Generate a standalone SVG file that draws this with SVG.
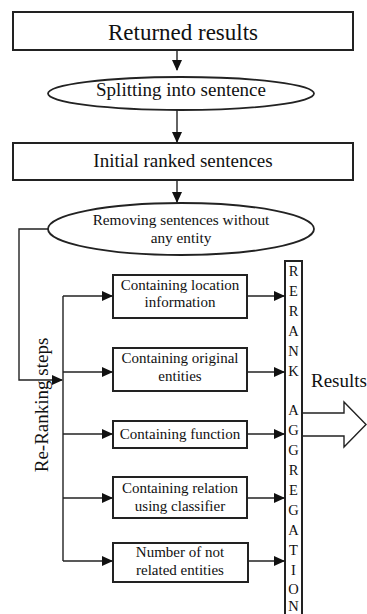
<svg xmlns="http://www.w3.org/2000/svg" width="367" height="614" viewBox="0 0 367 614">
  <style>
    .box { fill: #fff; stroke: #222; stroke-width: 2; }
    .ell { fill: #fff; stroke: #222; stroke-width: 1.8; }
    .ln { fill: none; stroke: #222; stroke-width: 1.4; }
    text { font-family: "Liberation Serif", "Times New Roman", serif; fill: #111; text-anchor: middle; }
    .t23 { font-size: 23px; }
    .t19 { font-size: 19px; }
    .t15 { font-size: 15.3px; }
    .t14 { font-size: 15px; }
    .bar text { font-size: 14.5px; }
  </style>
  <defs>
    <marker id="ah" markerWidth="11" markerHeight="10" refX="10" refY="5" orient="auto" markerUnits="userSpaceOnUse">
      <path d="M0,0 L11,5 L0,10 Z" fill="#111"/>
    </marker>
  </defs>

  <g id="returned-results">
    <rect class="box" x="13" y="12" width="340" height="38"/>
    <text class="t23" x="183" y="40">Returned results</text>
  </g>

  <g id="splitting">
    <ellipse class="ell" cx="181" cy="93.5" rx="133" ry="16.5"/>
    <text class="t19" x="181" y="96">Splitting into sentence</text>
  </g>

  <g id="initial-ranked">
    <rect class="box" x="13" y="143" width="340" height="37"/>
    <text class="t19" x="183" y="167">Initial ranked sentences</text>
  </g>

  <g id="removing">
    <ellipse class="ell" cx="181" cy="229" rx="133" ry="26"/>
    <text class="t15" x="181" y="225">Removing sentences without</text>
    <text class="t15" x="181" y="243">any entity</text>
  </g>

  <g id="location">
    <rect class="box" x="113" y="275" width="134" height="43"/>
    <text class="t14" x="180" y="290">Containing location</text>
    <text class="t14" x="180" y="307">information</text>
  </g>

  <g id="original">
    <rect class="box" x="113" y="348" width="134" height="43"/>
    <text class="t14" x="180" y="363">Containing original</text>
    <text class="t14" x="180" y="381">entities</text>
  </g>

  <g id="function">
    <rect class="box" x="113" y="421" width="134" height="27"/>
    <text class="t14" x="180" y="439">Containing function</text>
  </g>

  <g id="relation">
    <rect class="box" x="113" y="477" width="134" height="41"/>
    <text class="t14" x="180" y="493">Containing relation</text>
    <text class="t14" x="180" y="511">using classifier</text>
  </g>

  <g id="not-related">
    <rect class="box" x="113" y="543" width="135" height="39"/>
    <text class="t14" x="180" y="557">Number of not</text>
    <text class="t14" x="180" y="575">related entities</text>
  </g>

  <g id="rerank-aggregation" class="bar">
    <rect class="box" x="285" y="261" width="17" height="370"/>
    <text x="293.5" y="276">R</text>
    <text x="293.5" y="296">E</text>
    <text x="293.5" y="316">R</text>
    <text x="293.5" y="336">A</text>
    <text x="293.5" y="356">N</text>
    <text x="293.5" y="376">K</text>
    <text x="293.5" y="415">A</text>
    <text x="293.5" y="435">G</text>
    <text x="293.5" y="455">G</text>
    <text x="293.5" y="475">R</text>
    <text x="293.5" y="495">E</text>
    <text x="293.5" y="515">G</text>
    <text x="293.5" y="535">A</text>
    <text x="293.5" y="555">T</text>
    <text x="293.5" y="575">I</text>
    <text x="293.5" y="594">O</text>
    <text x="293.5" y="611">N</text>
  </g>

  <g id="results">
    <path class="ln" d="M302,413 H344 V402 L366,424.5 L344,447 V436 H302" fill="#fff" stroke-width="1.6"/>
    <text class="t19" x="339" y="387">Results</text>
  </g>

  <g id="label-steps">
    <text class="t19" x="0" y="0" transform="translate(48,405) rotate(-90)">Re-Ranking steps</text>
  </g>

  <g id="connectors">
    <line class="ln" x1="177" y1="50" x2="177" y2="70" marker-end="url(#ah)"/>
    <line class="ln" x1="177" y1="110" x2="177" y2="142" marker-end="url(#ah)"/>
    <line class="ln" x1="177" y1="180" x2="177" y2="202" marker-end="url(#ah)"/>
    <polyline class="ln" points="48,229 19,229 19,380 62,380" marker-end="url(#ah)"/>
    <line class="ln" x1="63" y1="296" x2="63" y2="561"/>
    <line class="ln" x1="63" y1="296" x2="112" y2="296" marker-end="url(#ah)"/>
    <line class="ln" x1="63" y1="372" x2="112" y2="372" marker-end="url(#ah)"/>
    <line class="ln" x1="63" y1="434" x2="112" y2="434" marker-end="url(#ah)"/>
    <line class="ln" x1="63" y1="498" x2="112" y2="498" marker-end="url(#ah)"/>
    <line class="ln" x1="63" y1="561" x2="112" y2="561" marker-end="url(#ah)"/>
    <line class="ln" x1="247" y1="296" x2="284" y2="296" marker-end="url(#ah)"/>
    <line class="ln" x1="247" y1="372" x2="284" y2="372" marker-end="url(#ah)"/>
    <line class="ln" x1="247" y1="434" x2="284" y2="434" marker-end="url(#ah)"/>
    <line class="ln" x1="247" y1="498" x2="284" y2="498" marker-end="url(#ah)"/>
    <line class="ln" x1="248" y1="561" x2="284" y2="561" marker-end="url(#ah)"/>
  </g>
</svg>
